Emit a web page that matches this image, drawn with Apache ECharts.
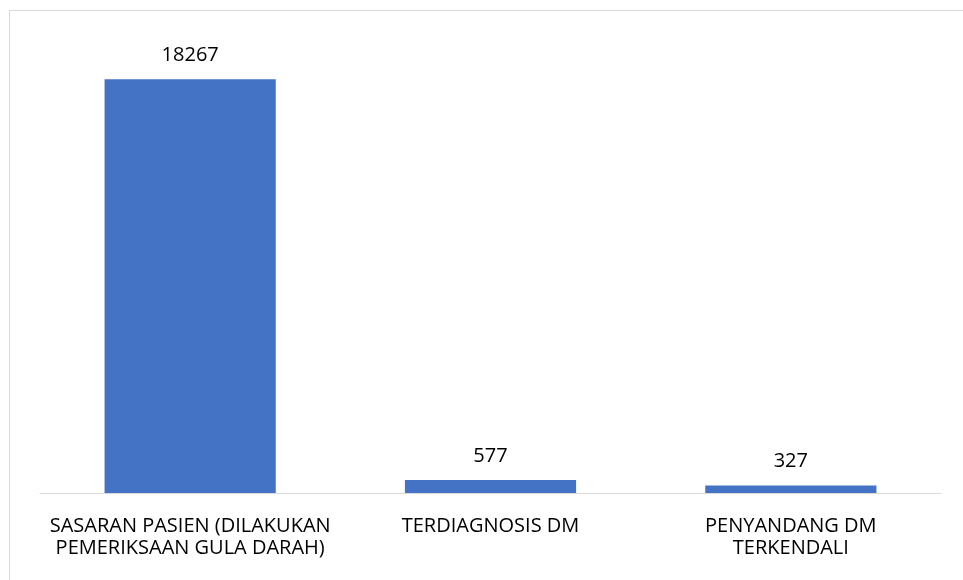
<!DOCTYPE html>
<html>
<head>
<meta charset="utf-8">
<script src="https://cdn.jsdelivr.net/npm/echarts@6/dist/echarts.min.js"></script>
<style>
    html, body { margin: 0; padding: 0; background: #fff; }
    #frame { position: absolute; left: 9px; top: 10px; width: 960px; height: 580px;
             border-top: 1px solid #d9d9d9; border-left: 1px solid #d9d9d9; }
    #main { position: absolute; left: 0; top: 0; width: 963px; height: 580px; }
</style>
</head>
<body>
<div id="frame"></div>
<div id="main"></div>
<script>
// kategori dan nilai
var categories = [
    'SASARAN PASIEN (DILAKUKAN\nPEMERIKSAAN GULA DARAH)',
    'TERDIAGNOSIS DM',
    'PENYANDANG DM\nTERKENDALI'
]
var values = [18267, 577, 327]

var myChart = echarts.init(document.getElementById('main'))
var options = {
    animation: false,
    grid: {
        left: 40,
        right: 22,
        top: 40,
        bottom: 87
    },
    xAxis: {
        type: 'category',
        data: categories,
        axisLine: { lineStyle: { color: '#d9d9d9', width: 1 } },
        axisTick: { show: false },
        axisLabel: {
            color: '#000',
            fontFamily: 'Open Sans',
            fontSize: 20,
            lineHeight: 22,
            margin: 22,
            interval: 0
        }
    },
    yAxis: {
        type: 'value',
        min: 0,
        max: 20000,
        show: false,
        splitLine: { show: false }
    },
    series: [
        {
            type: 'bar',
            data: values,
            barWidth: '57%',
            itemStyle: { color: '#4472c4' },
            label: {
                show: true,
                position: 'top',
                distance: 14,
                color: '#000',
                fontFamily: 'Open Sans',
                fontSize: 20
            }
        }
    ]
}
myChart.setOption(options)
</script>
</body>
</html>
